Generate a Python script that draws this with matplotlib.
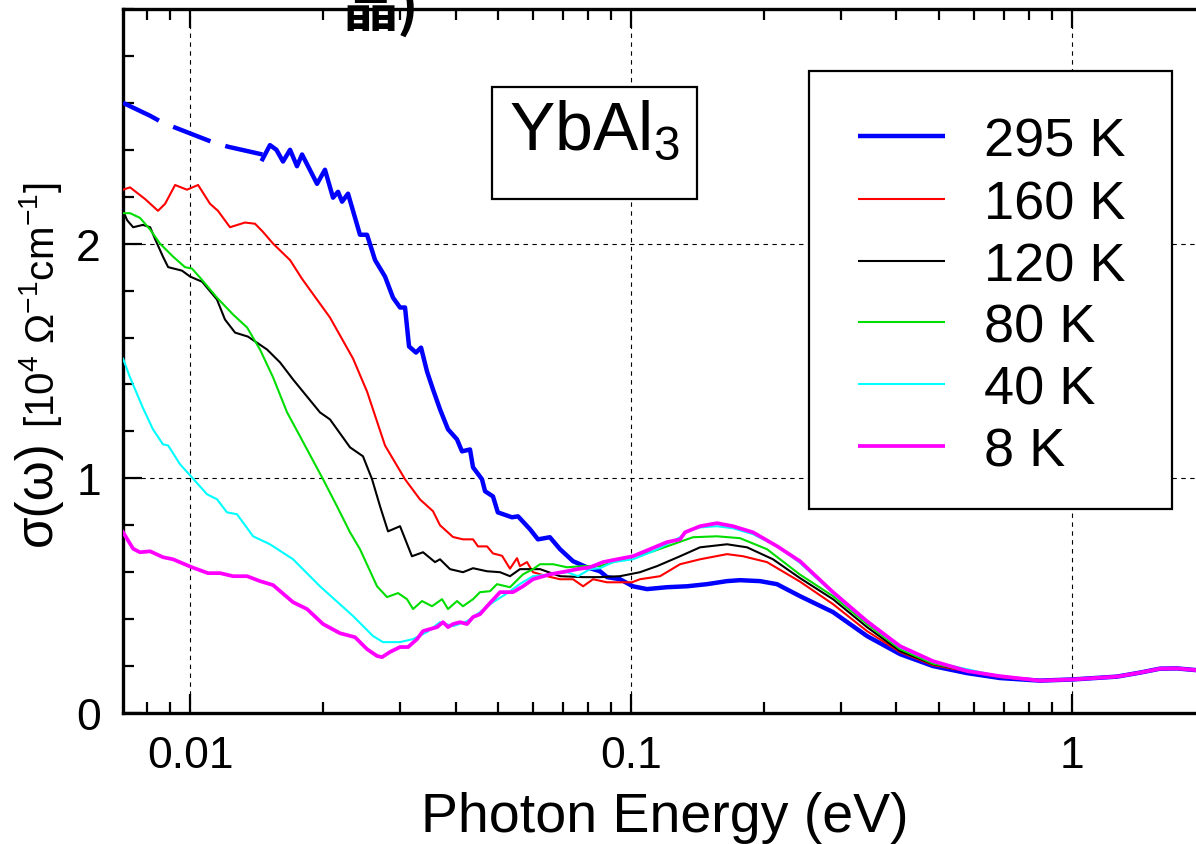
import matplotlib
matplotlib.use("Agg")
import matplotlib.pyplot as plt
from matplotlib.patches import Rectangle
from matplotlib.ticker import FixedLocator, FixedFormatter, LogLocator, MultipleLocator, NullFormatter

plt.rcParams['font.family'] = ['Liberation Sans', 'DejaVu Sans']
plt.rcParams['mathtext.fontset'] = 'custom'
plt.rcParams['mathtext.rm'] = 'Liberation Sans'
plt.rcParams['mathtext.it'] = 'Liberation Sans:italic'
plt.rcParams['mathtext.bf'] = 'Liberation Sans:bold'

# photon energy (eV) and sigma(omega) in 1e4 Ohm^-1 cm^-1
# above ~0.8 eV all temperatures coincide
tail_e = [0.846, 1.005, 1.264, 1.426, 1.584, 1.730, 1.931]
tail_s = [0.138, 0.143, 0.155, 0.172, 0.189, 0.190, 0.182]

# 295 K: low-energy extrapolation (dashed) and measured part
e295_ext = [0.00705, 0.00812, 0.00868, 0.0112, 0.0122, 0.0146]
s295_ext = [2.60, 2.545, 2.515, 2.434, 2.413, 2.38]
e295 = [0.0146, 0.01518, 0.0157, 0.01625, 0.01686, 0.01748, 0.01795, 0.01941, 0.02023, 0.0211,
        0.02166, 0.02212, 0.02282, 0.02429, 0.0252, 0.02628, 0.02768, 0.02886, 0.02994, 0.03073,
        0.03138, 0.03254, 0.03341, 0.03447, 0.03556, 0.03689, 0.03846, 0.04031, 0.04138, 0.04314,
        0.04383, 0.04593, 0.04667, 0.04864, 0.04989, 0.0537, 0.05544, 0.05902, 0.06151, 0.06548,
        0.06904, 0.07387, 0.07946, 0.08506, 0.08823, 0.09444, 0.101, 0.1087, 0.1206, 0.134,
        0.1487, 0.1651, 0.1767, 0.1961, 0.2143, 0.2416, 0.2871, 0.3429, 0.4074, 0.484,
        0.5781, 0.6866]
s295 = [2.36, 2.42, 2.40, 2.35, 2.40, 2.33, 2.38, 2.255, 2.315, 2.196,
        2.221, 2.179, 2.213, 2.038, 2.038, 1.93, 1.86, 1.77, 1.728, 1.728,
        1.562, 1.536, 1.557, 1.455, 1.379, 1.294, 1.209, 1.166, 1.115, 1.123,
        1.047, 0.996, 0.945, 0.923, 0.855, 0.834, 0.838, 0.783, 0.740, 0.749,
        0.698, 0.647, 0.621, 0.604, 0.579, 0.570, 0.540, 0.528, 0.536, 0.540,
        0.549, 0.562, 0.566, 0.562, 0.549, 0.498, 0.430, 0.328, 0.251, 0.200,
        0.170, 0.149]

e160 = [0.00705, 0.00731, 0.00791, 0.00846, 0.00878, 0.00925, 0.00984, 0.01043, 0.0111, 0.01157,
        0.01232, 0.01332, 0.01404, 0.01464, 0.01543, 0.01686, 0.01795, 0.02077, 0.02343, 0.02455,
        0.0252, 0.02768, 0.03073, 0.03323, 0.03556, 0.03689, 0.03948, 0.04159, 0.04383, 0.04498,
        0.04716, 0.04864, 0.051, 0.05316, 0.05515, 0.05598, 0.05809, 0.05994, 0.06448, 0.06904,
        0.07387, 0.07787, 0.08201, 0.08823, 0.1005, 0.1048, 0.1164, 0.1292, 0.1434, 0.1651,
        0.1795, 0.2034, 0.2416, 0.2871, 0.3429, 0.4074, 0.484, 0.6866]
s160 = [2.23, 2.24, 2.19, 2.14, 2.17, 2.25, 2.23, 2.25, 2.17, 2.14,
        2.07, 2.09, 2.085, 2.05, 2.00, 1.93, 1.85, 1.685, 1.51, 1.42,
        1.37, 1.14, 0.996, 0.91, 0.86, 0.80, 0.75, 0.74, 0.74, 0.71,
        0.71, 0.68, 0.67, 0.615, 0.66, 0.626, 0.643, 0.60, 0.583, 0.57,
        0.57, 0.54, 0.57, 0.557, 0.557, 0.57, 0.583, 0.634, 0.655, 0.677,
        0.668, 0.643, 0.56, 0.464, 0.349, 0.26, 0.204, 0.153]

e120 = [0.00705, 0.0072, 0.00743, 0.00782, 0.00812, 0.00833, 0.00868, 0.00892, 0.00959, 0.01,
        0.01037, 0.01065, 0.01151, 0.012, 0.01265, 0.01353, 0.01495, 0.016, 0.01713, 0.01971,
        0.02077, 0.02306, 0.02467, 0.02587, 0.02697, 0.02812, 0.02994, 0.03186, 0.03376, 0.03594,
        0.03689, 0.03887, 0.04159, 0.04383, 0.04716, 0.05047, 0.05316, 0.056, 0.06219, 0.06904,
        0.07787, 0.08506, 0.09444, 0.1048, 0.1146, 0.1292, 0.1434, 0.1651, 0.1833, 0.2099,
        0.2416, 0.2871, 0.3429, 0.4074, 0.484, 0.6866]
s120 = [2.14, 2.10, 2.07, 2.08, 2.07, 2.02, 1.945, 1.90, 1.885, 1.86,
        1.847, 1.838, 1.762, 1.677, 1.621, 1.604, 1.549, 1.494, 1.421, 1.281,
        1.251, 1.132, 1.094, 0.996, 0.881, 0.774, 0.796, 0.668, 0.685, 0.643,
        0.655, 0.613, 0.60, 0.617, 0.604, 0.60, 0.583, 0.613, 0.613, 0.583,
        0.579, 0.579, 0.583, 0.60, 0.626, 0.668, 0.706, 0.719, 0.706, 0.655,
        0.575, 0.485, 0.366, 0.264, 0.208, 0.155]

e80 = [0.00705, 0.00731, 0.0077, 0.00812, 0.00855, 0.00915, 0.00974, 0.0101, 0.01054, 0.01151,
       0.01252, 0.01347, 0.01441, 0.01543, 0.0166, 0.01776, 0.02003, 0.02154, 0.02306, 0.02429,
       0.02655, 0.02797, 0.02963, 0.03105, 0.03204, 0.03358, 0.03538, 0.03728, 0.03846, 0.04031,
       0.04159, 0.04383, 0.04546, 0.04789, 0.04967, 0.05316, 0.05544, 0.0569, 0.05994, 0.06219,
       0.06657, 0.0716, 0.07787, 0.08506, 0.0929, 0.101, 0.1122, 0.1245, 0.1382, 0.1567,
       0.1767, 0.2034, 0.2416, 0.2871, 0.3429, 0.4074, 0.484, 0.6866]
s80 = [2.13, 2.13, 2.11, 2.06, 2.00, 1.945, 1.90, 1.894, 1.855, 1.77,
       1.698, 1.643, 1.549, 1.43, 1.281, 1.179, 0.996, 0.881, 0.77, 0.698,
       0.54, 0.494, 0.511, 0.485, 0.443, 0.477, 0.455, 0.485, 0.443, 0.477,
       0.455, 0.485, 0.515, 0.519, 0.549, 0.536, 0.57, 0.591, 0.613, 0.634,
       0.634, 0.621, 0.626, 0.626, 0.647, 0.668, 0.689, 0.719, 0.749, 0.753,
       0.745, 0.698, 0.59, 0.498, 0.379, 0.272, 0.21, 0.155]

e40 = [0.00705, 0.00731, 0.00782, 0.00824, 0.00868, 0.00892, 0.00949, 0.0101, 0.01093, 0.01151,
       0.01213, 0.01278, 0.0139, 0.01518, 0.01713, 0.01971, 0.02343, 0.026, 0.02739, 0.02994,
       0.03204, 0.03447, 0.03689, 0.03948, 0.04248, 0.04546, 0.04864, 0.05236, 0.056, 0.05994,
       0.06548, 0.0716, 0.07585, 0.08072, 0.08506, 0.091, 0.101, 0.1122, 0.1206, 0.1292,
       0.134, 0.1434, 0.1567, 0.1703, 0.1891, 0.2143, 0.2416, 0.2871, 0.3429, 0.4074,
       0.484, 0.6866]
s40 = [1.51, 1.43, 1.30, 1.209, 1.145, 1.14, 1.06, 1.004, 0.932, 0.911,
       0.855, 0.847, 0.753, 0.719, 0.655, 0.54, 0.413, 0.328, 0.302, 0.302,
       0.315, 0.345, 0.387, 0.37, 0.391, 0.43, 0.472, 0.51, 0.55, 0.583,
       0.591, 0.60, 0.583, 0.613, 0.617, 0.643, 0.655, 0.689, 0.719, 0.749,
       0.774, 0.791, 0.796, 0.787, 0.762, 0.711, 0.64, 0.51, 0.387, 0.28,
       0.218, 0.156]

e8 = [0.00705, 0.00743, 0.0077, 0.00812, 0.00868, 0.00915, 0.0101, 0.01098, 0.0117, 0.01252,
      0.01347, 0.01441, 0.01543, 0.01713, 0.01842, 0.02003, 0.02188, 0.02367, 0.0252, 0.02655,
      0.02725, 0.02841, 0.02994, 0.03122, 0.03272, 0.03376, 0.03632, 0.03748, 0.03846, 0.03948,
      0.04096, 0.04248, 0.04383, 0.04546, 0.04716, 0.05047, 0.054, 0.0569, 0.05994, 0.06548,
      0.0716, 0.07544, 0.08072, 0.08642, 0.0929, 0.101, 0.1104, 0.1206, 0.1292, 0.1326,
      0.1434, 0.1567, 0.1703, 0.1891, 0.2143, 0.2416, 0.2871, 0.3429, 0.4074, 0.484,
      0.5781, 0.6866]
s8 = [0.77, 0.70, 0.685, 0.689, 0.664, 0.655, 0.621, 0.596, 0.596, 0.583,
      0.583, 0.562, 0.545, 0.472, 0.443, 0.379, 0.34, 0.323, 0.272, 0.243,
      0.238, 0.26, 0.281, 0.281, 0.315, 0.349, 0.366, 0.387, 0.366, 0.379,
      0.387, 0.379, 0.409, 0.421, 0.455, 0.515, 0.515, 0.54, 0.57, 0.591,
      0.604, 0.613, 0.621, 0.643, 0.655, 0.668, 0.698, 0.728, 0.74, 0.77,
      0.796, 0.809, 0.796, 0.77, 0.711, 0.647, 0.515, 0.391, 0.285, 0.221,
      0.179, 0.157]

labels = ['295 K', '160 K', '120 K', '80 K', '40 K', '8 K']
colors = ['#0000ff', '#ff0000', '#000000', '#00dd00', '#00ffff', '#ff00ff']
widths = [3.2, 1.5, 1.5, 1.5, 1.5, 2.7]
series = [(e295, s295), (e160, s160), (e120, s120), (e80, s80), (e40, s40), (e8, s8)]

fig = plt.figure(figsize=(11.96, 8.45), dpi=100)
ax = fig.add_axes([123 / 1196, 131 / 845, 1075 / 1196, 704 / 845])

ax.plot(e295_ext, s295_ext, color=colors[0], lw=widths[0], dashes=(9, 3.5),
        solid_capstyle='butt', zorder=3)
for (e, s), c, w in zip(series, colors, widths):
    ax.plot(e + tail_e, s + tail_s, color=c, lw=w, solid_joinstyle='round', zorder=3)

ax.set_xscale('log')
ax.set_xlim(0.007047, 1.931)
ax.set_ylim(0, 3.0)

ax.xaxis.set_major_locator(FixedLocator([0.01, 0.1, 1]))
ax.xaxis.set_major_formatter(FixedFormatter(['0.01', '0.1', '1']))
ax.xaxis.set_minor_locator(LogLocator(base=10, subs=range(2, 10)))
ax.xaxis.set_minor_formatter(NullFormatter())
ax.yaxis.set_major_locator(FixedLocator([0, 1, 2]))
ax.yaxis.set_major_formatter(FixedFormatter(['0', '1', '2']))
ax.yaxis.set_minor_locator(MultipleLocator(0.2))

ax.tick_params(which='both', direction='in', top=True, right=False, width=1.6,
               labelsize=32, pad=16)
ax.tick_params(which='major', length=14)
ax.tick_params(which='minor', length=8)
for sp in ax.spines.values():
    sp.set_linewidth(2.4)

ax.grid(True, which='major', color='k', linestyle=(0, (4, 4)), linewidth=0.8)
ax.set_axisbelow(False)

ax.set_xlabel('Photon Energy (eV)', fontsize=40, va='baseline')
ax.xaxis.set_label_coords(0.504, -0.168)

fig.text(37 / 1196, 1 - 493 / 845, 'σ(ω)', rotation=90, ha='center', va='center', fontsize=37)
fig.text(41 / 1196, 1 - 305 / 845, r'[10$^{4}$ $\Omega^{-1}$cm$^{-1}$]', rotation=90,
         ha='center', va='center', fontsize=29)

# sample name box
ax.add_patch(Rectangle((0.3433, 0.730), 0.191, 0.159, transform=ax.transAxes,
                       fill=True, facecolor='white', edgecolor='k', lw=1.6, zorder=5))
ax.text(0.4385, 0.801, r'YbAl$_{3}$', transform=ax.transAxes, ha='center', va='baseline',
        fontsize=49, zorder=6)

# legend
ax.add_patch(Rectangle((0.638, 0.290), 0.338, 0.622, transform=ax.transAxes,
                       facecolor='white', edgecolor='k', lw=1.6, zorder=5))
rows = [0.8196, 0.730, 0.642, 0.555, 0.467, 0.379]
for lab, c, w, yr in zip(labels, colors, widths, rows):
    ax.plot([0.684, 0.765], [yr, yr], transform=ax.transAxes, color=c, lw=w, zorder=6,
            solid_capstyle='butt')
    ax.text(0.801, yr - 0.0275, lab, transform=ax.transAxes, ha='left', va='baseline',
            fontsize=39, zorder=6)

# caption line partly outside the top of the figure
fig.text(342 / 1196, 1 - 26 / 845, '晶)', ha='left', va='baseline', fontsize=40,
         fontweight='bold', family=['Noto Sans CJK JP', 'DejaVu Sans'])

fig.savefig('out.png', dpi=100)
